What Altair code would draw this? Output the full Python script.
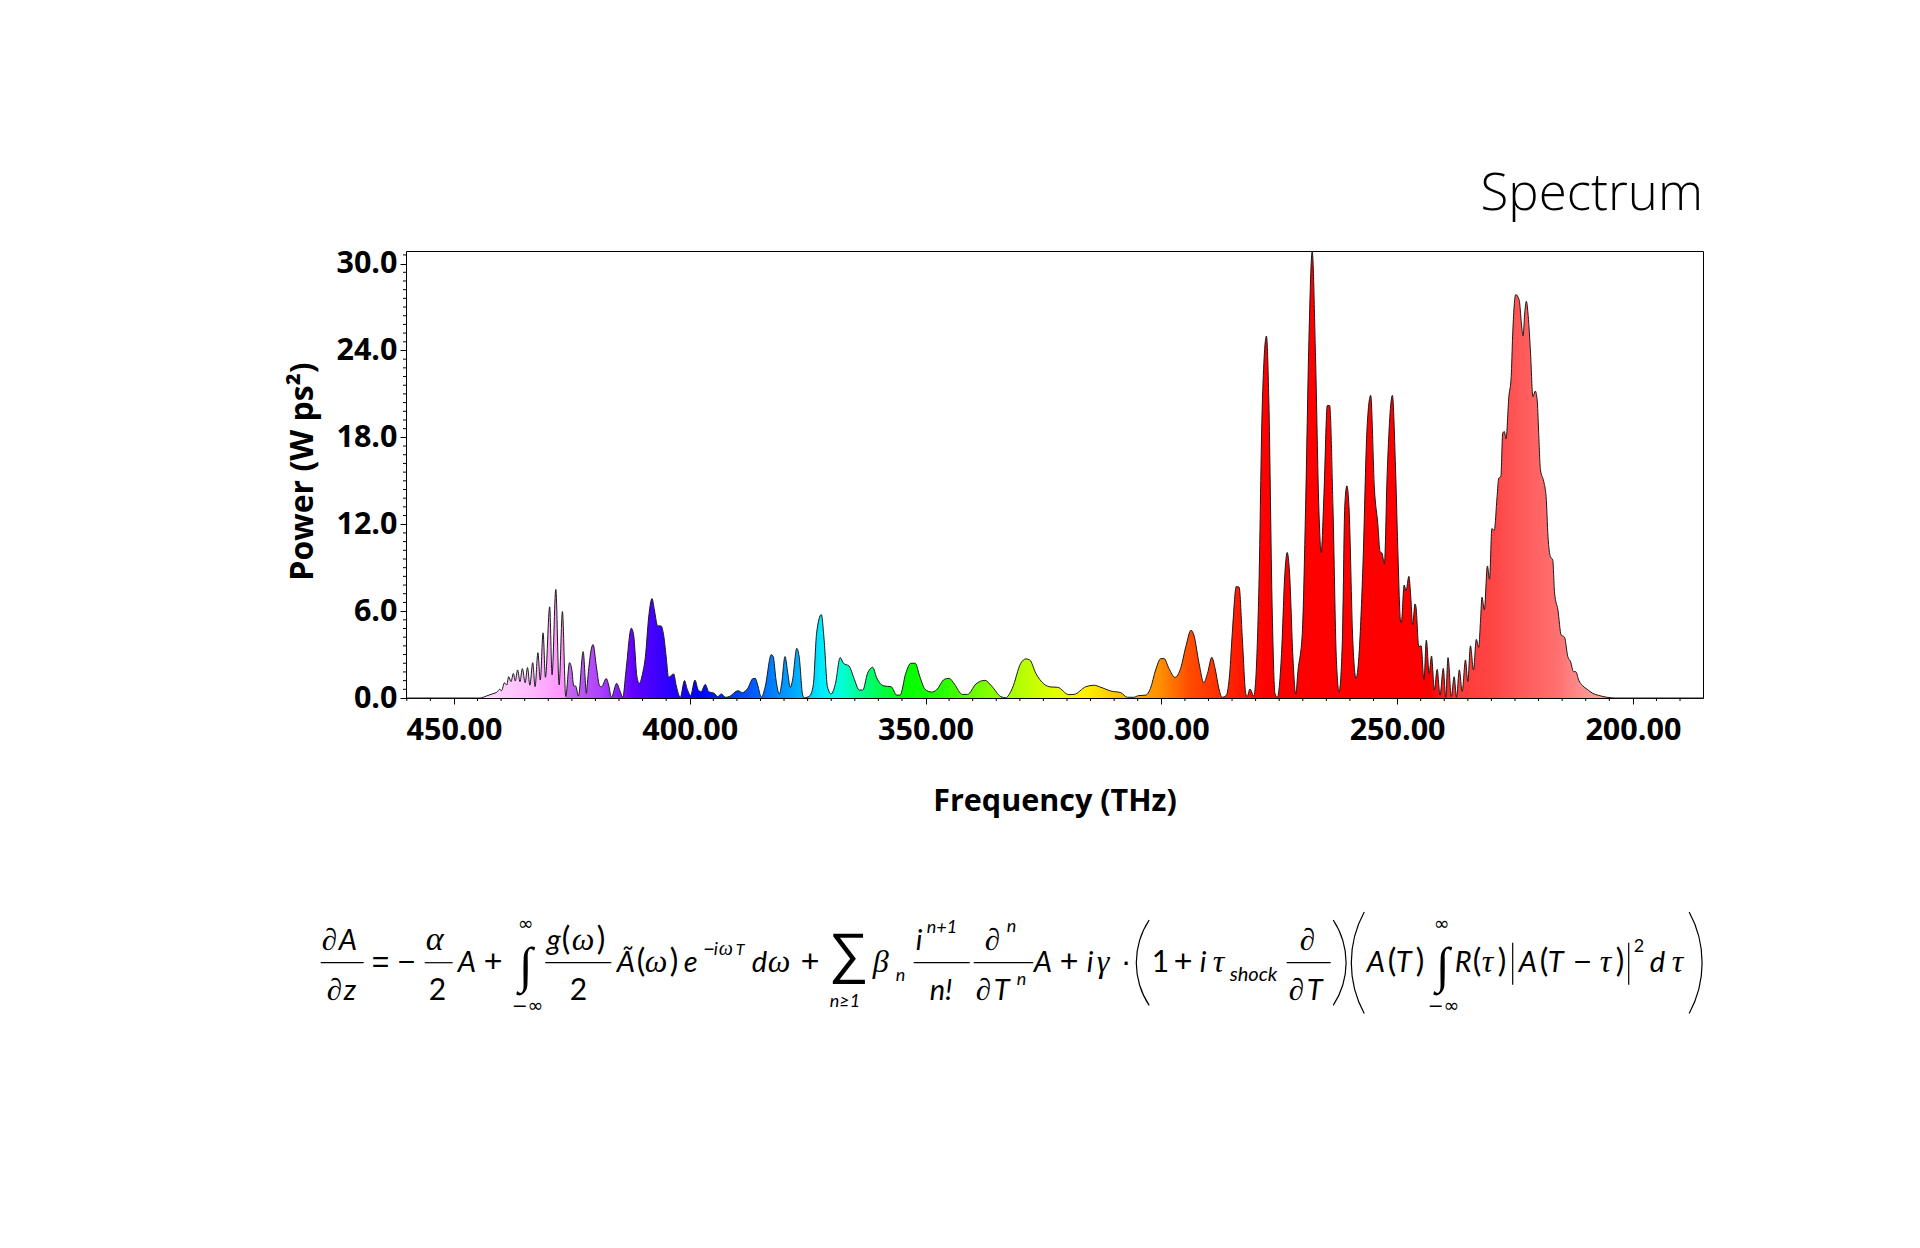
import math
import altair as alt
import pandas as pd

freq = [460.17,445.0,444.5,443.1,441.7,440.9,440.3,439.9,439.3,438.8,438.4,437.9,437.4,437.0,436.5,436.0,435.5,434.9,434.4,433.9,433.3,432.8,432.2,431.7,431.1,430.6,429.7,429.2,428.4,427.7,427.0,426.3,425.5,425.0,424.6,424.2,423.6,422.6,421.9,421.8,420.5,419.8,419.1,418.7,417.7,417.2,416.6,415.5,414.8,414.2,413.5,412.4,411.9,411.2,410.7,410.0,409.4,408.7,408.0,407.5,406.8,406.1,405.6,405.0,404.5,403.4,402.9,402.0,401.1,400.6,399.8,398.9,398.2,397.6,396.7,396.0,394.8,394.1,393.3,392.4,391.6,389.8,388.8,387.7,386.6,386.1,385.6,384.8,384.0,382.7,382.3,381.7,381.0,380.5,379.8,379.2,378.7,378.2,377.3,376.8,376.05,375.7,374.6,373.8,373.1,372.1,371.5,370.8,370.0,369.1,368.1,367.4,366.2,365.1,364.05,363.3,362.3,361.2,360.4,358.8,357.3,356.1,355.4,354.2,353.1,352.2,351.2,350.1,348.7,347.7,346.0,345.0,343.9,342.2,341.1,339.3,337.4,336.0,334.0,333.0,331.6,329.8,328.7,327.9,326.6,324.9,323.4,322.0,319.6,318.5,316.0,314.3,312.8,310.7,308.6,307.2,305.8,304.9,303.3,302.3,301.2,300.1,299.4,298.4,297.1,295.9,294.8,293.7,293.1,292.0,291.0,290.2,289.3,288.6,287.8,287.1,286.2,285.5,284.95,284.1,283.5,282.8,282.1,281.8,281.2,280.4,279.9,279.3,278.6,277.7,277.2,276.5,275.9,275.4,274.5,273.8,273.3,272.8,272.1,271.5,271.0,270.1,269.4,268.7,268.0,267.3,266.6,266.1,265.5,264.8,264.3,263.6,262.9,262.3,261.6,261.1,260.65,260.2,259.4,258.7,258.1,257.3,256.35,255.6,254.8,254.1,253.6,253.2,252.7,252.1,251.0,250.3,249.8,249.3,249.1,248.5,248.1,247.5,247.1,246.7,246.2,246.0,245.4,244.9,244.3,243.8,243.2,242.7,242.1,241.5,240.9,240.2,239.7,239.2,238.5,237.9,237.4,236.8,236.2,235.5,235.0,234.45,233.8,233.2,232.7,232.3,232.0,231.5,230.85,230.4,229.9,229.4,228.8,228.45,228.0,227.6,227.25,226.9,226.3,225.8,225.5,224.85,224.1,223.65,223.3,222.9,222.6,222.2,221.7,221.2,220.7,220.3,220.0,219.6,218.9,218.4,218.0,217.5,217.0,216.6,215.9,215.2,214.5,213.8,213.2,212.6,212.1,211.5,210.65,209.7,208.5,207.25,205.5,203.7,185.13]
power = [0,0,0,0.14,0.3,0.4,0.6,0.5,1.05,0.9,1.47,1.13,1.7,1.17,1.94,1.13,2.03,1.06,2.1,0.88,2.44,0.78,3.13,1.24,4.5,1.43,6.3,1.6,7.5,0.9,5.97,0.1,2.44,1.94,0.83,0.83,0.14,3.2,0.32,0.7,3.69,2.17,0.83,0.78,1.34,0.9,0.05,1.01,0.5,0.05,1.94,4.82,4.35,1.47,1.01,1.7,2.86,5.6,6.87,6.08,4.98,4.98,4.47,2.86,1.43,1.66,0.9,0.05,1.2,0.67,0.18,1.24,0.55,0.44,0.94,0.44,0.32,0.1,0.28,0.05,0.1,0.5,0.37,0.67,1.34,1.36,0.9,0.05,0.78,3.0,2.86,1.24,0.28,1.01,2.86,1.7,0.74,1.24,3.43,2.86,0.2,0.02,0.14,0.9,4.47,5.76,4.0,0.78,0.28,1.01,2.79,2.4,2.2,1.29,0.55,0.55,1.7,2.12,1.43,0.83,0.78,0.2,0.2,1.7,2.4,2.4,1.47,0.6,0.41,0.55,1.29,1.36,0.97,0.25,0.25,0.97,1.22,0.83,0.09,0.02,0.67,2.4,2.7,2.63,1.7,0.97,0.76,0.74,0.23,0.25,0.78,0.88,0.74,0.48,0.37,0.05,0.05,0.16,0.2,0.67,1.94,2.72,2.72,2.05,1.43,2.05,3.55,4.68,4.35,2.4,1.06,1.7,2.81,2.05,0.67,0.05,0.2,1.7,4.47,7.7,7.65,4.0,0.32,0.1,0.62,0.14,1.7,7.7,20.1,25.0,20.6,6.3,0.32,0.05,3.09,8.6,10.05,8.6,2.86,0.28,1.94,4.47,13.2,24.7,30.85,23.6,13.2,10.05,14.15,20.2,20.2,13.2,2.86,0.44,4.0,13.2,14.65,13.2,4.0,1.36,2.86,8.6,18.76,20.9,14.4,12.07,10.1,10.0,9.26,15.5,20.9,15.5,9.77,5.4,5.2,7.8,7.4,8.4,7.0,5.05,6.5,6.3,3.55,3.6,1.24,4.0,1.7,2.9,0.55,1.98,0.2,2.05,0.05,2.79,0.1,1.47,0.05,1.94,0.44,2.63,1.13,3.6,1.94,4.05,3.5,5.4,6.96,6.08,9.12,8.2,11.7,11.57,13.9,15.18,15.3,18.3,18.4,17.9,20.8,22.2,25.0,27.86,27.47,25.9,25.0,26.7,27.4,26.4,23.8,20.8,21.2,20.6,18.5,15.76,14.95,13.9,11.15,9.77,9.54,7.24,6.08,4.35,4.2,2.86,2.5,1.82,1.82,1.24,0.85,0.6,0.32,0.18,0.05,0,0]

stop_freq = [460.17,443.9,433.3,426.3,426.2,419.0,412.0,405.0,398.0,386.0,376.0,372.0,368.0,361.0,355.0,347.0,339.0,330.0,323.0,316.0,310.0,300.0,294.0,285.0,278.0,243.0,237.0,230.0,223.0,216.0,209.0,185.13]
stop_color = ["#ffdcff","#ffdcff","#ffb8ff","#ff90ff","#c468ee","#b040ff","#6000ff","#3000ff","#0000ff","#0060ff","#00b8ff","#00ecff","#00ffd8","#00ff60","#00ff00","#20ff00","#70ff00","#b4ff00","#e0ff00","#fff000","#ffc800","#ff8c00","#ff4c00","#ff2000","#ff0000","#ff0000","#ff3a3a","#ff4444","#ff5c5c","#ff7070","#ff9898","#ffd0d0"]

x_major = [450, 400, 350, 300, 250, 200]
x_minor = [v for v in range(190, 465, 5) if v % 50 != 0]
y_major = [0, 6, 12, 18, 24, 30]
y_minor = [round(i * 0.6, 1) for i in range(52) if i % 10 != 0]

W, H = 1297, 447
OX, OY = 406.3, 251.3
X0, X1 = 460.17, 185.13

df = pd.DataFrame({"freq": freq, "power": power})
stops = [alt.GradientStop(color=c, offset=(X0 - f) / (X0 - X1)) for f, c in zip(stop_freq, stop_color)]

x_enc = alt.X("freq:Q", scale=alt.Scale(domain=[X0, X1], nice=False, zero=False),
    axis=alt.Axis(values=x_major, title="Frequency (THz)", grid=False, domain=False, format=".2f",
        labelOverlap=False, labelFlush=False, tickSize=6,
        tickColor="#000", labelColor="#000", titleColor="#000", labelFont="Open Sans", titleFont="Open Sans",
        labelFontWeight="bold", titleFontWeight="bold", labelFontSize=30.5, titleFontSize=30.5, labelPadding=11, titlePadding=41))
y_enc = alt.Y("power:Q", scale=alt.Scale(domain=[0, 30.87], nice=False),
    axis=alt.Axis(values=y_major, title="Power (W ps²)", grid=False, domain=False, format=".1f",
        labelOverlap=False, labelFlush=False, tickSize=6,
        tickColor="#000", labelColor="#000", titleColor="#000", labelFont="Open Sans", titleFont="Open Sans",
        labelFontWeight="bold", titleFontWeight="bold", labelFontSize=30.5, titleFontSize=32, labelPadding=3, titlePadding=16, titleY=220))

area = alt.Chart(df).mark_area(
    interpolate="monotone",
    color=alt.Gradient(gradient="linear", stops=stops, x1=0, x2=1, y1=0, y2=0),
).encode(x=x_enc, y=y_enc)
line = alt.Chart(df).mark_line(interpolate="monotone", color="#1a1a1a", strokeWidth=1).encode(x="freq:Q", y="power:Q")
x_minor_ticks = alt.Chart(pd.DataFrame({"freq": x_minor})).mark_rule(color="#000", strokeWidth=1).encode(
    x="freq:Q", y=alt.value(H), y2=alt.value(H + 3))
y_minor_ticks = alt.Chart(pd.DataFrame({"power": y_minor})).mark_rule(color="#000", strokeWidth=1).encode(
    y="power:Q", x=alt.value(-3), x2=alt.value(0))

FONTS = {
    "i": dict(font="Lato", fontStyle="italic"),
    "r": dict(font="Lato"),
    "g": dict(font="Liberation Serif", fontStyle="italic"),
    "o": dict(font="Liberation Sans"),
    "m": dict(font="DejaVu Sans"),
}

BASE, NUM, DEN, AXIS = 972.7, 950, 1000.7, 963
eq_pieces = [
    ("∂", 322, NUM, 31, "g"), ("A", 339, NUM, 29, "i"), ("∂", 327, DEN, 31, "g"), ("z", 344, DEN, 29, "i"),
    ("=", 372, BASE, 30, "o"), ("−", 398, BASE, 30, "o"), ("α", 426, NUM, 34, "g"), ("2", 429, DEN, 30, "r"),
    ("A", 458, BASE, 29, "i"), ("+", 484, BASE, 32, "o"),
    ("∞", 518, 930, 19, "m"), ("∫", 519, 982, 50, "g"), ("−∞", 512, 1012, 19, "m"),
    ("g", 547, NUM, 29, "i"), ("(", 562, NUM, 32, "r"), ("ω", 572, NUM, 32, "g"), (")", 597, NUM, 32, "r"), ("2", 570, DEN, 30, "r"),
    ("Ã", 617, BASE, 29, "i"), ("(", 637, BASE, 32, "r"), ("ω", 645, BASE, 32, "g"), (")", 670, BASE, 32, "r"), ("e", 684, BASE, 29, "i"),
    ("−", 704, 955, 18, "o"), ("i", 714, 955, 18, "i"), ("ω", 719, 955, 20, "g"), ("T", 736, 955, 16, "i"),
    ("d", 752, BASE, 29, "i"), ("ω", 768, BASE, 32, "g"), ("+", 801, BASE, 32, "o"),
    ("∑", 829, 972, 56, "o"), ("n≥1", 830, 1007, 18, "i"),
    ("β", 873, BASE, 32, "g"), ("n", 896, 981.7, 18, "i"), ("i", 916, NUM, 29, "i"), ("n+1", 927, 933, 18, "i"),
    ("n!", 930, DEN, 29, "i"), ("∂", 985, NUM, 31, "g"), ("n", 1007, 932.7, 18, "i"),
    ("∂", 976, DEN, 31, "g"), ("T", 994, DEN, 29, "i"), ("n", 1017, 985, 18, "i"),
    ("A", 1034, BASE, 29, "i"), ("+", 1060, BASE, 32, "o"), ("i", 1087, BASE, 29, "i"), ("γ", 1097, BASE, 32, "g"), ("·", 1121, BASE, 32, "o"),
    ("1", 1152, BASE, 30, "r"), ("+", 1174, BASE, 32, "o"), ("i", 1200, BASE, 29, "i"), ("τ", 1213, BASE, 32, "g"),
    ("shock", 1230, 981.7, 20, "i"), ("∂", 1300, NUM, 31, "g"), ("∂", 1289, DEN, 31, "g"), ("T", 1307, DEN, 29, "i"),
    ("A", 1367, BASE, 29, "i"), ("(", 1388, BASE, 32, "r"), ("T", 1396, BASE, 29, "i"), (")", 1416, BASE, 32, "r"),
    ("∞", 1434, 930, 19, "m"), ("∫", 1436, 982, 50, "g"), ("−∞", 1428, 1012, 19, "m"),
    ("R", 1455, BASE, 29, "i"), ("(", 1473, BASE, 32, "r"), ("τ", 1482, BASE, 32, "g"), (")", 1498, BASE, 32, "r"),
    ("A", 1519, BASE, 29, "i"), ("(", 1540, BASE, 32, "r"), ("T", 1548, BASE, 29, "i"), ("−", 1574, BASE, 30, "o"), ("τ", 1600, BASE, 32, "g"), (")", 1616, BASE, 32, "r"),
    ("2", 1634, 952, 18, "r"), ("d", 1650, BASE, 29, "i"), ("τ", 1672, BASE, 32, "g"),
]
eq_bars = [(321, 364), (425, 453), (545.5, 611.6), (914, 970), (974, 1033.5), (1287, 1331)]
eq_vbars = [1513, 1629]
eq_parens = [(1136, 86, "L"), (1347, 86, "R"), (1351, 102, "L"), (1703, 102, "R")]


def px(v):
    return alt.value(v - OX)


def py(v):
    return alt.value(v - OY)


layers = [area, line, x_minor_ticks, y_minor_ticks]
for text, x, y, size, kind in eq_pieces:
    layers.append(alt.Chart().mark_text(align="left", baseline="alphabetic", fontSize=size, color="#000", **FONTS[kind])
                  .encode(x=px(x), y=py(y), text=alt.value(text)))
for a, b in eq_bars:
    layers.append(alt.Chart().mark_rule(color="#000", strokeWidth=1.2).encode(x=px(a), x2=px(b), y=py(AXIS)))
for v in eq_vbars:
    layers.append(alt.Chart().mark_rule(color="#000", strokeWidth=1.2).encode(x=px(v), y=py(943), y2=py(985)))
for edge, h, side in eq_parens:
    s = 13.0
    R = (h * h / 4 + s * s) / (2 * s)
    half = math.asin(h / 2 / R)
    if side == "L":
        cx, c = edge + R, 1.5 * math.pi
    else:
        cx, c = edge - R, 0.5 * math.pi
    layers.append(alt.Chart().mark_arc(radius=R, radius2=R - 1.2, theta=c - half, theta2=c + half, color="#000")
                  .encode(x=px(cx), y=py(AXIS)))

chart = alt.layer(*layers).properties(
    width=W, height=H,
    padding={"left": 278, "top": 160, "right": 5, "bottom": 5},
    title=alt.TitleParams("Spectrum", anchor="end", font="Open Sans", fontSize=51, fontWeight=300, color="#000", offset=28, frame="group"),
).configure_view(stroke="#000", strokeWidth=1, continuousWidth=W, continuousHeight=H)

chart.save("out.html", embed_options={"renderer": "svg", "actions": False})
